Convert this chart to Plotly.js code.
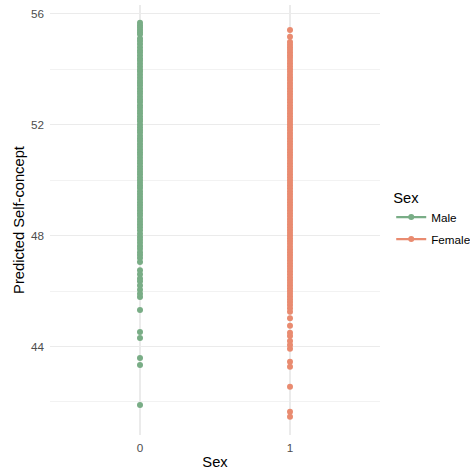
<!DOCTYPE html>
<html>
<head>
<meta charset="utf-8">
<script src="https://cdn.plot.ly/plotly-3.0.1.min.js"></script>
<style>html,body{margin:0;padding:0;background:#fff;}#chart{width:470px;height:471px;}</style>
</head>
<body>
<div id="chart"></div>
<script>
// Categories and legend labels
const sexCategories = ['0', '1'];
const sexLabels = ['Male', 'Female'];
const tickVals = [44, 48, 52, 56];

// Predicted self-concept values
const maleValues = [
  55.67, 55.58, 55.5, 55.41, 55.33, 55.26,
  55.1, 55.01, 54.9, 54.79, 54.68, 54.6, 54.49, 54.38, 54.3, 54.19, 54.08, 53.98, 53.9, 53.8,
  53.69, 53.58, 53.5, 53.41, 53.3, 53.2, 53.11, 53.0, 52.9, 52.81, 52.7, 52.61, 52.5, 52.41,
  52.3, 52.2, 52.12, 52.0, 51.9, 51.8, 51.71, 51.6, 51.5, 51.41, 51.3, 51.2, 51.1, 51.0,
  50.91, 50.8, 50.7, 50.61, 50.5, 50.4, 50.3, 50.21, 50.1, 50.0, 49.9, 49.8, 49.71, 49.6,
  49.5, 49.4, 49.31, 49.2, 49.1, 49.0, 48.9, 48.8, 48.71, 48.6, 48.5, 48.4, 48.3, 48.19,
  48.06, 47.95, 47.85, 47.74, 47.62, 47.52, 47.4, 47.3, 47.19, 47.05,
  46.75, 46.6, 46.45, 46.35, 46.2, 46.05, 45.9, 45.78,
  45.32, 44.52, 44.31, 43.59, 43.33, 41.89
];
const femaleValues = [
  55.41, 55.17,
  54.98, 54.88, 54.79, 54.7, 54.6, 54.5, 54.41, 54.3, 54.2, 54.1, 54.0, 53.9, 53.8, 53.7,
  53.61, 53.5, 53.4, 53.3, 53.2, 53.1, 53.0, 52.9, 52.8, 52.7, 52.6, 52.5, 52.4, 52.3,
  52.2, 52.1, 52.0, 51.9, 51.8, 51.7, 51.6, 51.5, 51.4, 51.3, 51.2, 51.1, 51.0, 50.9,
  50.8, 50.7, 50.6, 50.5, 50.4, 50.3, 50.2, 50.1, 50.0, 49.9, 49.8, 49.7, 49.6, 49.5,
  49.4, 49.3, 49.2, 49.1, 49.0, 48.9, 48.8, 48.7, 48.6, 48.5, 48.4, 48.3, 48.2, 48.1,
  48.0, 47.9, 47.8, 47.7, 47.6, 47.5, 47.4, 47.3, 47.2, 47.1, 47.0, 46.9, 46.8, 46.7,
  46.6, 46.5, 46.4, 46.3, 46.2, 46.1, 46.0, 45.9, 45.8, 45.7, 45.6, 45.5, 45.38, 45.25,
  45.02, 44.75, 44.5, 44.38, 44.2, 44.05, 43.92, 43.45, 43.27, 42.55, 41.65, 41.47
];
const seriesColors = ['#79AD86', '#E98B70'];

const seriesValues = [maleValues, femaleValues];
const traces = [];
seriesValues.forEach((vals, i) => {
  traces.push({
    type: 'scatter', mode: 'markers',
    x: vals.map(() => sexCategories[i]), y: vals,
    marker: {color: seriesColors[i], size: 6},
    showlegend: false, hoverinfo: 'skip'
  });
});
sexLabels.forEach((lab, i) => {
  traces.push({
    type: 'scatter', mode: 'lines+markers',
    x: [null], y: [null], name: lab, legendgroup: 'g' + i,
    line: {color: seriesColors[i], width: 2.2},
    marker: {color: seriesColors[i], size: 6}
  });
});

const font = 'Liberation Sans, Arial, Helvetica, sans-serif';
const layout = {
  width: 470, height: 471,
  margin: {l: 50, r: 90, t: 5, b: 36, autoexpand: false},
  paper_bgcolor: '#fff', plot_bgcolor: '#fff',
  font: {family: font, color: '#000'},
  xaxis: {
    type: 'category', categoryorder: 'array', categoryarray: sexCategories,
    range: [-0.6, 1.6], showgrid: true, gridcolor: '#EBEBEB', gridwidth: 1.1,
    zeroline: false, showline: false, ticks: '', automargin: false,
    tickfont: {size: 11.7, color: '#4D4D4D', family: font},
    ticklabelstandoff: 4,
    title: {text: 'Sex', font: {size: 14.7, color: '#000', family: font}, standoff: 4}
  },
  yaxis: {
    range: [40.81, 56.31], tickvals: tickVals, ticktext: tickVals.map(String),
    showgrid: true, gridcolor: '#EBEBEB', gridwidth: 1.1,
    minor: {tick0: 42, dtick: 4, showgrid: true, gridcolor: '#EFEFEF', gridwidth: 0.8, ticks: ''},
    zeroline: false, showline: false, ticks: '', automargin: false,
    tickfont: {size: 11.7, color: '#4D4D4D', family: font},
    ticklabelstandoff: 5,
    title: {text: 'Predicted Self-concept', font: {size: 14.7, color: '#000', family: font}, standoff: 2}
  },
  legend: {
    x: 1.034, xanchor: 'left', y: 0.585, yanchor: 'top',
    font: {size: 11.7, color: '#000', family: font},
    title: {text: 'Sex', font: {size: 14.7, color: '#000', family: font}},
    tracegroupgap: 3, bgcolor: 'rgba(0,0,0,0)'
  },
  showlegend: true
};
Plotly.newPlot('chart', traces, layout, {staticPlot: true, displayModeBar: false});
</script>
</body>
</html>
